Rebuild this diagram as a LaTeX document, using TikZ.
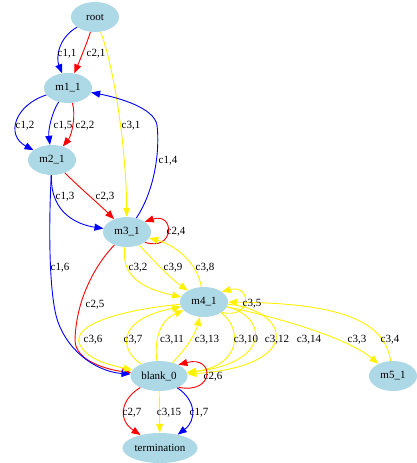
\documentclass[tikz,border=0pt]{standalone}
\usepackage{fontspec}
\setmainfont{Liberation Serif}
\usetikzlibrary{shapes.geometric,arrows.meta}
\definecolor{nodefill}{HTML}{ADD8E6}
\tikzset{
  st/.style={ellipse,fill=nodefill,inner sep=0pt,minimum width=48pt,minimum height=30pt,font=\fontsize{11}{13}\selectfont},
  lbl/.style={inner sep=0pt,font=\fontsize{11}{13}\selectfont},
  e/.style={line width=0.9pt,-{Triangle[length=9pt,width=7pt]}},
  eb/.style={e,draw=blue,{-}{Triangle[length=9pt,width=7pt,fill=blue]}},
  er/.style={e,draw=red},
  ey/.style={e,draw=yellow},
}
\begin{document}
\begin{tikzpicture}[x=1pt,y=-1pt]
\useasboundingbox (0,0) rectangle (416,463);
% nodes
\node[st] (root) at (95,17) {root};
\node[st] (m11) at (68,88) {m1\_1};
\node[st] (m21) at (52,160) {m2\_1};
\node[st] (m31) at (127,232) {m3\_1};
\node[st] (m41) at (204,302) {m4\_1};
\node[st,minimum width=57pt] (b0) at (159,376) {blank\_0};
\node[st] (m51) at (393,376) {m5\_1};
\node[st,minimum width=75pt] (term) at (160,448) {termination};
% edges
\draw[e,blue] (root) .. controls (58,38) and (56,58) .. (m11);
\draw[er] (root) .. controls (88,40) and (80,60) .. (m11);
\draw[ey] (root) .. controls (115,70) and (126,150) .. (m31);
\draw[e,blue] (m31) .. controls (155,190) and (160,150) .. (157,125) .. controls (154,108) and (120,98) .. (m11);
\draw[e,blue] (m11) .. controls (15,105) and (5,135) .. (m21);
\draw[e,blue] (m11) .. controls (52,112) and (48,130) .. (m21);
\draw[er] (m11) .. controls (76,115) and (72,135) .. (m21);
\draw[e,blue] (m21) .. controls (50,215) and (80,225) .. (m31);
\draw[er] (m21) .. controls (80,188) and (100,205) .. (m31);
\draw[er] (m31.-30) .. controls (175,252) and (175,212) .. (m31.30);
\draw[ey] (m31) .. controls (120,280) and (150,290) .. (m41);
\draw[ey] (m31) .. controls (155,262) and (170,278) .. (m41);
\draw[ey] (m41) .. controls (197,262) and (175,245) .. (m31);
\draw[ey] (m41.-30) .. controls (252,320) and (252,284) .. (m41.30);
\draw[ey] (m41) .. controls (290,320) and (350,340) .. (m51);
\draw[ey] (m51) .. controls (385,325) and (350,303) .. (m41);
\draw[er] (m31) .. controls (95,265) and (76,300) .. (75,340) .. controls (75,362) and (110,370) .. (b0);
\draw[e,blue] (m21) .. controls (48,240) and (50,300) .. (58,322) .. controls (70,355) and (100,372) .. (b0);
\draw[ey] (m41) .. controls (120,310) and (70,325) .. (80,345) .. controls (88,360) and (110,365) .. (b0);
\draw[ey] (b0) .. controls (120,350) and (115,320) .. (m41);
\draw[ey] (b0) .. controls (154,340) and (160,320) .. (m41);
\draw[ey] (b0) .. controls (185,350) and (195,335) .. (m41);
\draw[ey] (m41) .. controls (240,325) and (245,365) .. (b0);
\draw[ey] (m41) .. controls (265,315) and (275,362) .. (b0);
\draw[ey] (m41) .. controls (290,310) and (305,366) .. (b0);
\draw[er] (b0.-30) .. controls (215,395) and (215,355) .. (b0.30);
\draw[er] (b0) .. controls (120,400) and (118,420) .. (term);
\draw[ey] (b0) -- (term);
\draw[e,blue] (b0) .. controls (196,400) and (197,420) .. (term);
% labels
\node[lbl] (l11) at (67,54) {c1,1};
\node[lbl] (l21) at (96,54) {c2,1};
\node[lbl] (l31) at (131,126) {c3,1};
\node[lbl] (l14) at (168,161) {c1,4};
\node[lbl] (l12) at (25,126) {c1,2};
\node[lbl] (l15) at (63,126) {c1,5};
\node[lbl] (l22) at (85,126) {c2,2};
\node[lbl] (l13) at (65,197) {c1,3};
\node[lbl] (l23) at (105,197) {c2,3};
\node[lbl] (l24) at (176,232) {c2,4};
\node[lbl] (l32) at (138,268) {c3,2};
\node[lbl] (l39) at (173,268) {c3,9};
\node[lbl] (l38) at (205,268) {c3,8};
\node[lbl] (l16) at (60,268) {c1,6};
\node[lbl] (l25) at (95,305) {c2,5};
\node[lbl] (l35) at (252,304) {c3,5};
\node[lbl] (l36) at (93,340) {c3,6};
\node[lbl] (l37) at (133,340) {c3,7};
\node[lbl] (l311) at (172,340) {c3,11};
\node[lbl] (l313) at (207,340) {c3,13};
\node[lbl] (l310) at (246,340) {c3,10};
\node[lbl] (l312) at (277,340) {c3,12};
\node[lbl] (l314) at (309,340) {c3,14};
\node[lbl] (l33) at (357,340) {c3,3};
\node[lbl] (l34) at (390,340) {c3,4};
\node[lbl] (l26) at (213,377) {c2,6};
\node[lbl] (l27) at (132,413) {c2,7};
\node[lbl] (l315) at (169,413) {c3,15};
\node[lbl] (l17) at (199,413) {c1,7};
\end{tikzpicture}
\end{document}
